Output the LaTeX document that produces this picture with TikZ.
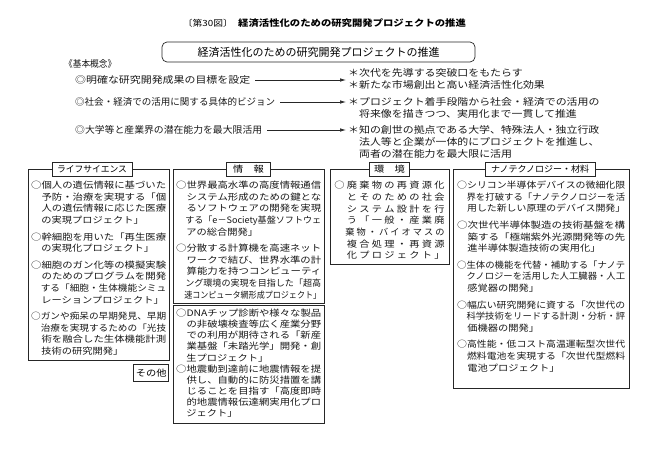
\documentclass[tikz,border=0pt]{standalone}
\usepackage{fontspec}
\usepackage{graphicx}
\usetikzlibrary{arrows.meta}
\newfontfamily\jp{Noto Sans CJK JP}[FakeStretch=1.15]
\newfontfamily\jpn{Noto Sans CJK JP}
\newcommand\jfl[2]{\resizebox{#1}{\height}{#2}}
\newcommand\wA{135pt}
\newcommand\wB{145pt}
\newcommand\wC{168pt}
\newlength\gp \setlength\gp{12.5pt}
\makeatletter
\def\jgrid#1{\jgrid@a#1\@nil}
\def\jgrid@a#1{\ifx#1\@nil\else\makebox[\gp][c]{#1}\expandafter\jgrid@a\fi}
\makeatother
\begin{document}
\begin{tikzpicture}[x=1pt,y=-1pt,
  frame/.style={draw=black!85, line width=0.7pt, inner sep=0pt, anchor=north west},
  tab/.style={draw=black!85, line width=0.7pt, fill=white, inner sep=0pt, minimum height=14pt, font=\jp\fontsize{8.9}{10}\selectfont},
  body/.style={inner sep=0pt, anchor=north west, align=left, text=black!90, font=\jp\fontsize{8.9}{11.6}\selectfont},
  envbody/.style={body, font=\jp\fontsize{8.9}{11.7}\selectfont},
  lowbody/.style={body, font=\jp\fontsize{8.9}{11.1}\selectfont},
  concept/.style={inner sep=0pt, anchor=west, text=black!90, font=\jp\fontsize{9.5}{12}\selectfont},
  effect/.style={inner sep=0pt, anchor=north west, align=left, text=black!90, font=\jp\fontsize{9.5}{12}\selectfont},
  arr/.style={line width=0.7pt, draw=black!85, -{Latex[length=6pt,width=3.5pt]}, shorten <=5pt, shorten >=2pt}]
\useasboundingbox (0,0) rectangle (655,454);

% title
\node[inner sep=0pt, anchor=base east, font=\jp\fontsize{8.5}{10}\selectfont] (fig) at (233,26.5) {〔第30図〕};
\node[inner sep=0pt, anchor=base west, font=\jp\bfseries\fontsize{9}{10}\selectfont] (ttl) at (238,26.5) {経済活性化のための研究開発プロジェクトの推進};
\node[draw=black!85, line width=0.7pt, rounded corners=5pt, minimum width=313pt, minimum height=20pt, inner sep=0pt, font=\jpn\fontsize{11}{12}\selectfont] (head) at (318.5,52) {経済活性化のための研究開発プロジェクトの推進};

% basic concept
\node[concept] (kihon) at (64,64) {\jfl{52pt}{《基本概念》}};
\node[concept] (m1) at (75,80) {\jfl{175pt}{◎明確な研究開発成果の目標を設定}};
\node[concept] (m2) at (75,102) {\jfl{200pt}{◎社会・経済での活用に関する具体的ビジョン}};
\node[concept] (m3) at (75,130) {\jfl{187pt}{◎大学等と産業界の潜在能力を最大限活用}};
\node[effect] (g1) at (348,68.7) {＊次代を先導する突破口をもたらす\\＊新たな市場創出と高い経済活性化効果};
\node[effect] (g2) at (348,97.7) {＊プロジェクト着手段階から社会・経済での活用の\\　将来像を描きつつ、実用化まで一貫して推進};
\node[effect] (g3) at (348,125.7) {＊知の創世の拠点である大学、特殊法人・独立行政\\　法人等と企業が一体的にプロジェクトを推進し、\\　両者の潜在能力を最大限に活用};
\draw[arr] (m1.east) -- (m1.east -| g1.west);
\draw[arr] (m2.east) -- (m2.east -| g2.west);
\draw[arr] (m3.east) -- (m3.east -| g3.west);

% frames
\node[frame, minimum width=141pt, minimum height=191pt] (ls) at (28,169) {};
\node[frame, minimum width=151pt, minimum height=134pt] (info1) at (173,169) {};
\node[frame, minimum width=151pt, minimum height=118pt] (info2) at (173,305) {};
\node[frame, minimum width=119pt, minimum height=95pt] (env) at (330,169) {};
\node[frame, minimum width=176pt, minimum height=219pt] (nano) at (453,169) {};

% tabs
\node[tab, minimum width=80pt] (lstab) at (92,169) {\resizebox{70pt}{\height}{ライフサイエンス}};
\node[tab, minimum width=44pt] (infotab) at (248.5,169) {情　報};
\node[tab, minimum width=40pt] (envtab) at (389.5,169) {環　境};
\node[tab, minimum width=110pt] (nanotab) at (540,169) {\resizebox{98pt}{\height}{ナノテクノロジー・材料}};
\node[tab, anchor=north east, minimum width=35pt, minimum height=17pt] (other) at (169,364) {その他};

% texts
\node[body] (lstext) at (31,181) {%
\jfl\wA{○個人の遺伝情報に基づいた}\\
\jfl\wA{　予防・治療を実現する「個}\\
\jfl\wA{　人の遺伝情報に応じた医療}\\
　の実現プロジェクト」\\[5pt]
\jfl\wA{○幹細胞を用いた「再生医療}\\
　の実現化プロジェクト」\\[5pt]
\jfl\wA{○細胞のガン化等の模擬実験}\\
\jfl\wA{　のためのプログラムを開発}\\
\jfl\wA{　する「細胞・生体機能シミュ}\\
　レーションプロジェクト」\\[5pt]
\jfl\wA{○ガンや痴呆の早期発見、早期}\\
\jfl\wA{　治療を実現するための「光技}\\
\jfl\wA{　術を融合した生体機能計測}\\
　技術の研究開発」};

\node[body] (info1text) at (176,181) {%
\jfl\wB{○世界最高水準の高度情報通信}\\
\jfl\wB{　システム形成のための鍵とな}\\
\jfl\wB{　るソフトウェアの開発を実現}\\
\jfl\wB{　する「e－Society基盤ソフトウェ}\\
　アの総合開発」\\[5pt]
\jfl\wB{○分散する計算機を高速ネット}\\
\jfl\wB{　ワークで結び、世界水準の計}\\
\jfl\wB{　算能力を持つコンピューティ}\\
\jfl\wB{　ング環境の実現を目指した「超高}\\
\jfl\wB{　速コンピュータ網形成プロジェクト」}};

\node[lowbody] (info2text) at (176,309) {%
\jfl\wB{○DNAチップ診断や様々な製品}\\
\jfl\wB{　の非破壊検査等広く産業分野}\\
\jfl\wB{　での利用が期待される「新産}\\
\jfl\wB{　業基盤「未踏光学」開発・創}\\
　生プロジェクト」\\
\jfl\wB{○地震動到達前に地震情報を提}\\
\jfl\wB{　供し、自動的に防災措置を講}\\
\jfl\wB{　じることを目指す「高度即時}\\
\jfl\wB{　的地震情報伝達網実用化プロ}\\
　ジェクト」};

\node[envbody] (envtext) at (333,181) {%
\jgrid{○廃棄物の再資源化}\\
\jgrid{　とそのための社会}\\
\jgrid{　システム設計を行}\\
\jgrid{　う「一般・産業廃}\\
\resizebox{9\gp}{\height}{\jgrid{　棄物・バイオマスの}}\\
\jgrid{　複合処理・再資源}\\
\jgrid{　化プロジェクト」}};

\node[body] (nanotext) at (457,181) {%
\jfl\wC{○シリコン半導体デバイスの微細化限}\\
\jfl\wC{　界を打破する「ナノテクノロジーを活}\\
\jfl\wC{　用した新しい原理のデバイス開発」}\\[5pt]
\jfl\wC{○次世代半導体製造の技術基盤を構}\\
\jfl\wC{　築する「極端紫外光源開発等の先}\\
　進半導体製造技術の実用化」\\[5pt]
\jfl\wC{○生体の機能を代替・補助する「ナノテ}\\
\jfl\wC{　クノロジーを活用した人工臓器・人工}\\
　感覚器の開発」\\[5pt]
\jfl\wC{○幅広い研究開発に資する「次世代の}\\
\jfl\wC{　科学技術をリードする計測・分析・評}\\
　価機器の開発」\\[5pt]
\jfl\wC{○高性能・低コスト高温運転型次世代}\\
\jfl\wC{　燃料電池を実現する「次世代型燃料}\\
　電池プロジェクト」};
\end{tikzpicture}
\end{document}
